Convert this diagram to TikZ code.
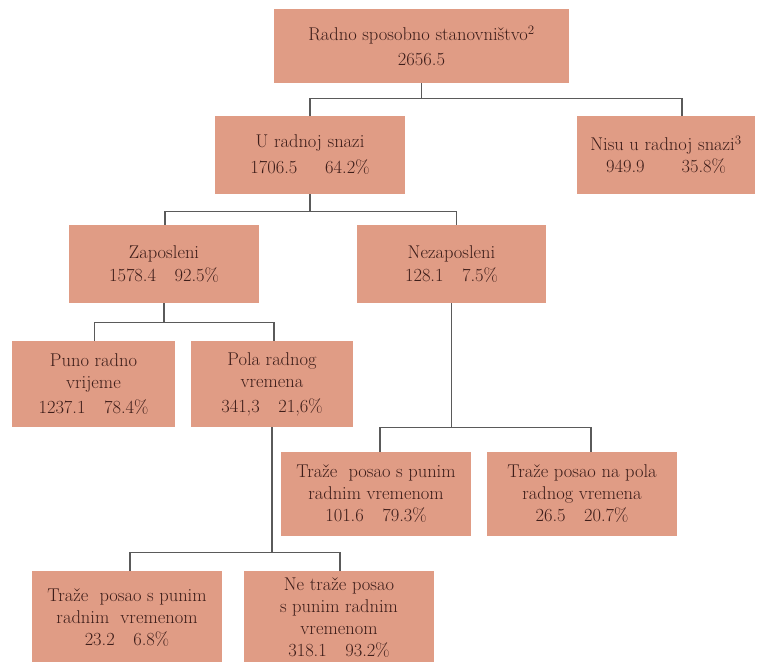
\documentclass[tikz,border=0pt]{standalone}
\usepackage{fontspec}
\begin{document}
\begin{tikzpicture}[x=1pt,y=-1pt]
\definecolor{box}{RGB}{224,156,133}
\definecolor{ink}{RGB}{62,30,26}
\definecolor{wire}{RGB}{90,90,90}
\tikzset{cell/.style={fill=box,text=ink,inner sep=0pt,align=center,
                      font=\fontsize{18.5}{22}\selectfont},
         link/.style={draw=wire,line width=1.4pt}}
\useasboundingbox (0,0) rectangle (759,661);
\clip (0,0) rectangle (759,661);

% the whole population and its split into labour force / not in it
\node[cell,minimum width=295,minimum height=74] (top) at (421.5,46)
    {Radno sposobno stanovništvo\textsuperscript{2}\\[3pt]2656.5};
\node[cell,minimum width=190,minimum height=78] (urs) at (310,155)
    {U radnoj snazi\\[4pt]1706.5\hspace{1.5em}64.2\%};
\node[cell,minimum width=178,minimum height=78] (nisu) at (666,155)
    {Nisu u radnoj snazi\textsuperscript{3}\\949.9\hspace{2em}35.8\%};

% employed / unemployed
\node[cell,minimum width=190,minimum height=78] (zap) at (164,264)
    {Zaposleni\\[1pt]1578.4\quad 92.5\%};
\node[cell,minimum width=189,minimum height=78] (nez) at (451.5,264)
    {Nezaposleni\\[1pt]128.1\quad 7.5\%};

% working time of the employed
\node[cell,minimum width=163,minimum height=86] (puno) at (93.5,384)
    {Puno radno\\vrijeme\\[3pt]1237.1\quad 78.4\%};
\node[cell,minimum width=162,minimum height=86] (pola) at (272,384)
    {Pola radnog\\vremena\\[3pt]341,3\quad 21,6\%};

% what the unemployed look for
\node[cell,minimum width=190,minimum height=84] (tpun) at (376,494)
    {Traže\ \ posao s punim\\radnim vremenom\\101.6\quad 79.3\%};
\node[cell,minimum width=190,minimum height=84] (tpola) at (582,494)
    {Traže posao na pola\\radnog vremena\\26.5\quad 20.7\%};

% part-time workers, cut by the lower edge
\node[cell,minimum width=190,minimum height=94] (btpun) at (127,618)
    {Traže\ \ posao s punim\\radnim\ \ vremenom\\23.2\quad 6.8\%};
\node[cell,minimum width=190,minimum height=94] (bntr) at (339,618)
    {Ne traže posao\\s punim radnim\\vremenom\\318.1\quad 93.2\%};

% tree connectors: parent, child, drop to the bar, shift of the child end
\foreach \p/\c/\d/\s in {top/urs/15/0, top/nisu/15/16, urs/zap/17/1, urs/nez/17/5,
                         zap/puno/19/1, zap/pola/19/2, nez/tpun/124/4, nez/tpola/124/9,
                         pola/btpun/125/3, pola/bntr/125/1}
{
    \draw[link] (\p.south) -- ++(0,\d) -| ([xshift=\s]\c.north);
}
\end{tikzpicture}
\end{document}
